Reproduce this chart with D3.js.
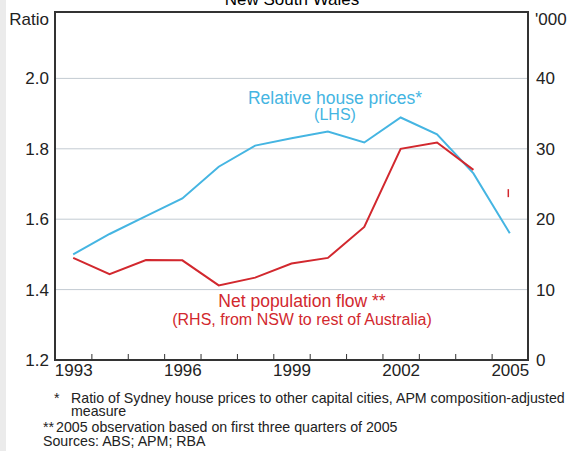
<!DOCTYPE html>
<html>
<head>
<meta charset="utf-8">
<script src="https://cdn.jsdelivr.net/npm/d3@7"></script>
<style>
  body { margin: 0; background: #fff; }
  svg { display: block; font-family: Arial, "Liberation Sans", sans-serif; }
</style>
</head>
<body>
<svg width="569" height="451"></svg>
<script>
// Data
const years = [1993, 1994, 1995, 1996, 1997, 1998, 1999, 2000, 2001, 2002, 2003, 2004, 2005];
const housePrices = [1.500, 1.558, 1.609, 1.659, 1.749, 1.809, 1.830, 1.849, 1.818, 1.889, 1.841, 1.730, 1.560];
// net population flow ('000), 1993-2004 joined; 2005 shown on its own
const popFlow = [14.5, 12.2, 14.2, 14.16, 10.6, 11.7, 13.7, 14.5, 18.9, 30.0, 30.9, 27.0];
const popFlow2005 = 23.7;
const leftTicks = [1.2, 1.4, 1.6, 1.8, 2.0];
const rightTicks = [0, 10, 20, 30, 40];
const yearLabels = [1993, 1996, 1999, 2002, 2005];
const footnotes = [
  ["*", "Ratio of Sydney house prices to other capital cities, APM composition-adjusted"],
  ["", "measure"],
  ["**", "2005 observation based on first three quarters of 2005"],
  ["", "Sources: ABS; APM; RBA"]
];

const blue = "#45b5e2", red = "#d2282e", axisCol = "#333";

const plot = {left: 55, right: 528, top: 12, bottom: 360};

const svg = d3.select("svg");

// grey strip at far left
svg.append("rect").attr("x", 0).attr("y", 0).attr("width", 6).attr("height", 451).attr("fill", "#ebebeb");

const x = d3.scaleLinear().domain([1992.5, 2005.5]).range([plot.left, plot.right]);
const yL = d3.scaleLinear().domain([1.2, 2.2]).range([plot.bottom, 8]);
const yR = d3.scaleLinear().domain([0, 50]).range([plot.bottom, 8]);

// title (cut off at top, as in the original)
svg.append("text").attr("x", 292).attr("y", 5).attr("text-anchor", "middle")
  .attr("font-size", 17).attr("fill", "#000").text("New South Wales");

// gridlines
svg.append("g").selectAll("line")
  .data(leftTicks.filter(d => d > 1.2))
  .join("line")
    .attr("x1", plot.left).attr("x2", plot.right)
    .attr("y1", d => yL(d)).attr("y2", d => yL(d))
    .attr("stroke", "#c3cbd2").attr("stroke-width", 1);

// left axis labels
const leftAxis = svg.append("g")
  .attr("transform", `translate(${plot.left},0)`)
  .call(d3.axisLeft(yL).tickValues(leftTicks).tickFormat(d3.format(".1f")).tickSize(0).tickPadding(6));
leftAxis.select(".domain").remove();
leftAxis.selectAll("text").attr("font-size", 17).attr("fill", "#222").attr("font-family", null);

// right axis labels
const rightAxis = svg.append("g")
  .attr("transform", `translate(${plot.right},0)`)
  .call(d3.axisRight(yR).tickValues(rightTicks).tickSize(0).tickPadding(8));
rightAxis.select(".domain").remove();
rightAxis.selectAll("text").attr("font-size", 17).attr("fill", "#222").attr("font-family", null);

// axis unit labels
svg.append("text").attr("x", 49).attr("y", 25).attr("text-anchor", "end")
  .attr("font-size", 17).attr("fill", "#222").text("Ratio");
svg.append("text").attr("x", 535).attr("y", 25)
  .attr("font-size", 17).attr("fill", "#222").text("'000");

// bottom ticks at year boundaries (pointing up)
const bottomTicks = svg.append("g")
  .attr("transform", `translate(0,${plot.bottom})`)
  .call(d3.axisBottom(x).tickValues(years.slice(0, -1).map(d => d + 0.5)).tickFormat("").tickSizeInner(-6).tickSizeOuter(0));
bottomTicks.select(".domain").remove();
bottomTicks.selectAll("line").attr("stroke", axisCol);

// year labels
const yearAxis = svg.append("g")
  .attr("transform", `translate(0,${plot.bottom})`)
  .call(d3.axisBottom(x).tickValues(yearLabels).tickFormat(d3.format("d")).tickSize(0).tickPadding(4));
yearAxis.select(".domain").remove();
yearAxis.selectAll("text").attr("font-size", 17).attr("fill", "#222").attr("font-family", null);

// frame
svg.append("path")
  .attr("d", `M${plot.left},${plot.bottom}V${plot.top}H${plot.right}V${plot.bottom}Z`)
  .attr("fill", "none").attr("stroke", axisCol).attr("stroke-width", 2);

// lines
const houseLine = d3.line().x((d, i) => x(years[i])).y(d => yL(d));
svg.append("path").datum(housePrices)
  .attr("d", houseLine).attr("fill", "none").attr("stroke", blue).attr("stroke-width", 2);

const popLine = d3.line().x((d, i) => x(years[i])).y(d => yR(d));
svg.append("path").datum(popFlow)
  .attr("d", popLine).attr("fill", "none").attr("stroke", red).attr("stroke-width", 2);

svg.append("line")
  .attr("x1", x(2005) - 1.5).attr("x2", x(2005) - 1.5)
  .attr("y1", yR(popFlow2005) - 4).attr("y2", yR(popFlow2005) + 4)
  .attr("stroke", red).attr("stroke-width", 1.5);

// series labels
svg.append("text").attr("x", 335).attr("y", 104).attr("text-anchor", "middle")
  .attr("font-size", 17.5).attr("fill", blue).text("Relative house prices*");
svg.append("text").attr("x", 335).attr("y", 120).attr("text-anchor", "middle")
  .attr("font-size", 16).attr("fill", blue).text("(LHS)");
svg.append("text").attr("x", 302).attr("y", 307).attr("text-anchor", "middle")
  .attr("font-size", 17.5).attr("fill", red).text("Net population flow **");
svg.append("text").attr("x", 302).attr("y", 325).attr("text-anchor", "middle")
  .attr("font-size", 16).attr("fill", red).text("(RHS, from NSW to rest of Australia)");

// footnotes
const noteY = [403, 416, 432, 446];
const notes = svg.append("g").attr("font-size", 14.2).attr("fill", "#222");
footnotes.forEach((f, i) => {
  if (f[0] === "*") notes.append("text").attr("x", 54).attr("y", noteY[i]).text("*");
  if (f[0] === "**") notes.append("text").attr("x", 43).attr("y", noteY[i]).text("**");
  const tx = i === 3 ? 43 : (i === 2 ? 56 : 71);
  notes.append("text").attr("x", tx).attr("y", noteY[i]).text(f[1]);
});
</script>
</body>
</html>
